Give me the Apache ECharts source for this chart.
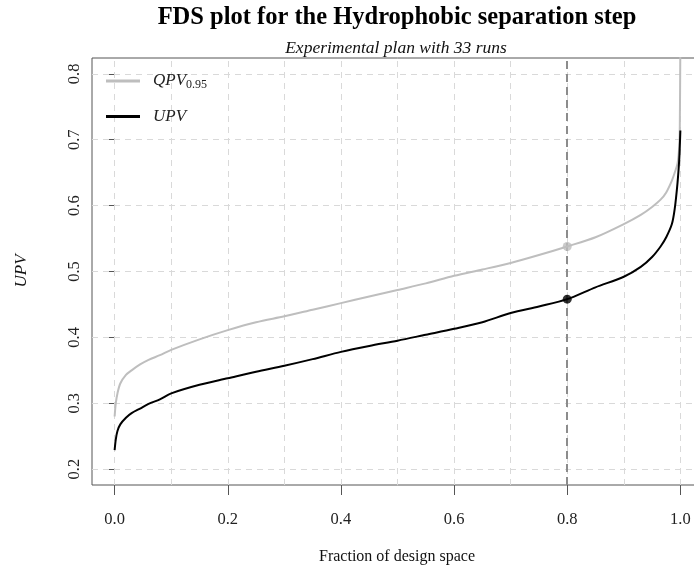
<!DOCTYPE html>
<html>
<head>
<meta charset="utf-8">
<script src="https://cdn.jsdelivr.net/npm/echarts@6/dist/echarts.min.js"></script>
<style>
html,body{margin:0;padding:0;background:#fff;overflow:hidden;width:694px;height:572px;}
#chart{width:704px;height:572px;}
</style>
</head>
<body>
<div id="chart"></div>
<script>
// ---- data ----
const fraction = [0, 0.002, 0.005, 0.01, 0.02, 0.03, 0.045, 0.06, 0.08, 0.1, 0.15, 0.2, 0.25, 0.3, 0.35, 0.4, 0.45, 0.5, 0.55, 0.6, 0.65, 0.7, 0.75, 0.8, 0.85, 0.9, 0.93, 0.95, 0.965, 0.975, 0.985, 0.99, 0.995, 0.998, 0.999, 1.0];
const upv = [0.229, 0.245, 0.258, 0.268, 0.278, 0.285, 0.292, 0.299, 0.306, 0.315, 0.328, 0.338, 0.348, 0.357, 0.367, 0.378, 0.387, 0.395, 0.404, 0.413, 0.423, 0.437, 0.447, 0.458, 0.476, 0.492, 0.507, 0.522, 0.538, 0.552, 0.572, 0.595, 0.635, 0.670, 0.690, 0.714];
const qpv = [0.280, 0.300, 0.315, 0.330, 0.343, 0.350, 0.359, 0.366, 0.373, 0.381, 0.397, 0.411, 0.423, 0.432, 0.442, 0.452, 0.462, 0.472, 0.482, 0.4935, 0.503, 0.513, 0.525, 0.538, 0.552, 0.572, 0.586, 0.598, 0.609, 0.620, 0.638, 0.650, 0.664, 0.690, 0.720, 0.850];
const cutoff = 0.8;
const upvAtCutoff = 0.458;
const qpvAtCutoff = 0.538;
const xTickValues = [0, 0.2, 0.4, 0.6, 0.8, 1.0];
const yTickValues = [0.2, 0.3, 0.4, 0.5, 0.6, 0.7, 0.8];
const gridX = [0, 0.1, 0.2, 0.3, 0.4, 0.5, 0.6, 0.7, 0.8, 0.9, 1.0];
const gridY = [0.2, 0.3, 0.4, 0.5, 0.6, 0.7, 0.8];
const titleText = 'FDS plot for the Hydrophobic separation step';
const subtitleText = 'Experimental plan with 33 runs';
const xTitle = 'Fraction of design space';
const yTitle = 'UPV';

// ---- chart ----
const SERIF = '"Liberation Serif", "DejaVu Serif", serif';
const chart = echarts.init(document.getElementById('chart'), null, {renderer: 'canvas'});
const pair = (xs, ys) => xs.map((x, i) => [x, ys[i]]);

const option = {
  backgroundColor: '#ffffff',
  animation: false,
  grid: {
    left: 92, top: 58, right: 1, bottom: 87,
    show: true, borderColor: '#555555', borderWidth: 1, backgroundColor: 'transparent'
  },
  xAxis: {
    type: 'value', min: -0.04, max: 1.04,
    axisLine: {show: false},
    splitLine: {show: false},
    axisTick: {show: true, customValues: xTickValues, length: 10, lineStyle: {color: '#555555', width: 1}},
    axisLabel: {customValues: xTickValues, margin: 26, fontFamily: SERIF, fontSize: 16.5, color: '#222',
      formatter: v => v.toFixed(1)}
  },
  yAxis: {
    type: 'value', min: 0.176, max: 0.824,
    axisLine: {show: false},
    splitLine: {show: false},
    axisTick: {show: true, customValues: yTickValues, length: 10, lineStyle: {color: '#555555', width: 1}},
    axisLabel: {customValues: yTickValues, margin: 9, rotate: 90, fontFamily: SERIF, fontSize: 16.5, color: '#222',
      formatter: v => v.toFixed(1)}
  },
  legend: {
    orient: 'vertical', left: 101, top: 66,
    itemWidth: 34, itemHeight: 3, itemGap: 17,
    icon: 'rect',
    data: ['QPV', 'UPV'],
    formatter: name => name === 'QPV' ? '{i|QPV}{s|0.95}' : '{i|UPV}',
    textStyle: {
      padding: [0, 0, 0, 8],
      rich: {
        i: {fontFamily: SERIF, fontStyle: 'italic', fontSize: 17, color: '#222', lineHeight: 20},
        s: {fontFamily: SERIF, fontSize: 12, color: '#222', lineHeight: 20, padding: [8, 0, 0, 0]}
      }
    }
  },
  graphic: [
    {type: 'text', x: 397, y: 18, style: {text: titleText, font: 'bold 24.5px ' + SERIF, fill: '#000',
      textAlign: 'center', textVerticalAlign: 'middle', align: 'center', verticalAlign: 'middle'}},
    {type: 'text', x: 396, y: 48, style: {text: subtitleText, font: 'italic 17.5px ' + SERIF, fill: '#111',
      textAlign: 'center', textVerticalAlign: 'middle', align: 'center', verticalAlign: 'middle'}},
    {type: 'text', x: 397, y: 557, style: {text: xTitle, font: '16px ' + SERIF, fill: '#111',
      textAlign: 'center', textVerticalAlign: 'middle', align: 'center', verticalAlign: 'middle'}},
    {type: 'text', x: 22, y: 271, rotation: Math.PI / 2, style: {text: yTitle, font: 'italic 17px ' + SERIF, fill: '#111',
      textAlign: 'center', textVerticalAlign: 'middle', align: 'center', verticalAlign: 'middle'}}
  ],
  series: [
    {
      name: 'grid', type: 'line', data: [], silent: true, z: 1,
      markLine: {
        z: 1, silent: true, symbol: ['none', 'none'], label: {show: false},
        lineStyle: {color: '#d9d9d9', width: 1, type: [6, 5]},
        emphasis: {disabled: true},
        data: gridX.map(v => ({xAxis: v})).concat(gridY.map(v => ({yAxis: v})))
      }
    },
    {
      name: 'cut', type: 'line', data: [], silent: true, z: 2,
      markLine: {
        z: 2, silent: true, symbol: ['none', 'none'], label: {show: false},
        lineStyle: {color: '#8c8c8c', width: 2, type: [8, 5]},
        emphasis: {disabled: true},
        data: [{xAxis: cutoff}]
      }
    },
    {
      name: 'QPV', type: 'line', data: pair(fraction, qpv), showSymbol: false, symbol: 'none', smooth: 0.3,
      lineStyle: {color: '#bebebe', width: 2}, itemStyle: {color: '#bebebe'}, z: 3, clip: true
    },
    {
      name: 'UPV', type: 'line', data: pair(fraction, upv), showSymbol: false, symbol: 'none', smooth: 0.3,
      lineStyle: {color: '#000000', width: 2}, itemStyle: {color: '#000000'}, z: 4, clip: true
    },
    {
      name: 'qpvPoint', type: 'scatter', data: [[cutoff, qpvAtCutoff]], symbolSize: 9,
      itemStyle: {color: '#bebebe'}, z: 5
    },
    {
      name: 'upvPoint', type: 'scatter', data: [[cutoff, upvAtCutoff]], symbolSize: 9,
      itemStyle: {color: '#000000'}, z: 5
    }
  ]
};
chart.setOption(option);
</script>
</body>
</html>
